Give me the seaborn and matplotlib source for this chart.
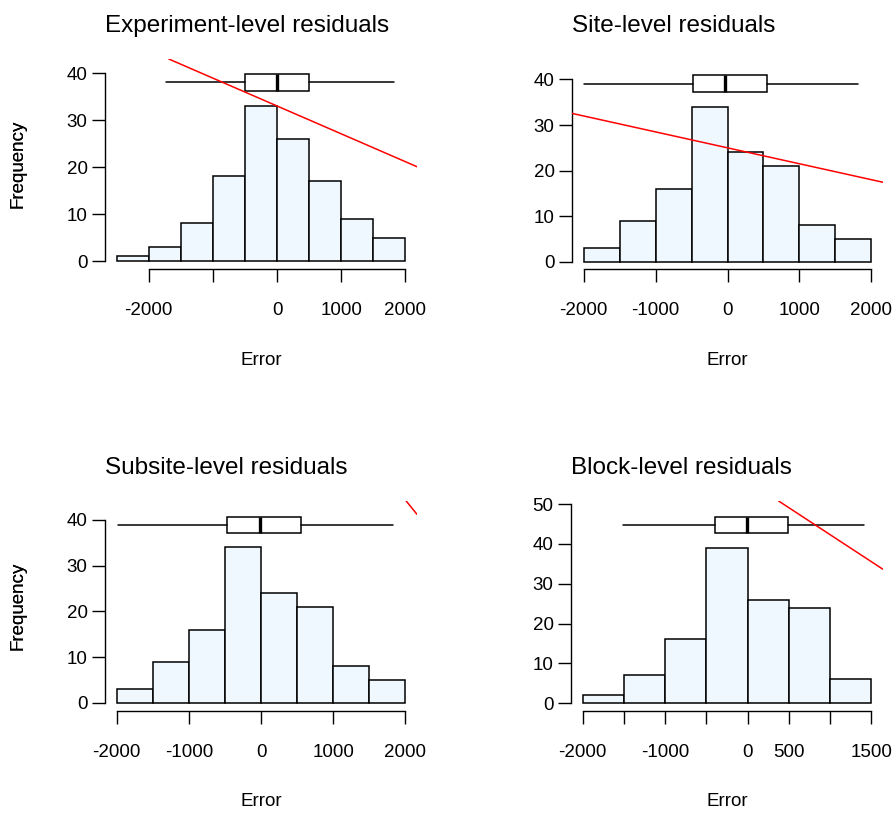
import numpy as np
import pandas as pd
import seaborn as sns
import matplotlib
matplotlib.use("Agg")
import matplotlib.pyplot as plt

sns.set_style("ticks", {"axes.edgecolor": "black", "text.color": "black",
                        "axes.labelcolor": "black",
                        "xtick.color": "black", "ytick.color": "black"})
plt.rcParams["font.family"] = ["Liberation Sans", "DejaVu Sans"]

# histogram bins and counts
titles = ["Experiment-level residuals", "Site-level residuals",
          "Subsite-level residuals", "Block-level residuals"]
edges_exp = [-2500, -2000, -1500, -1000, -500, 0, 500, 1000, 1500, 2000]
counts_exp = [1, 3, 8, 18, 33, 26, 17, 9, 5]
edges_site = [-2000, -1500, -1000, -500, 0, 500, 1000, 1500, 2000]
counts_site = [3, 9, 16, 34, 24, 21, 8, 5]
edges_subsite = [-2000, -1500, -1000, -500, 0, 500, 1000, 1500, 2000]
counts_subsite = [3, 9, 16, 34, 24, 21, 8, 5]
edges_block = [-2000, -1500, -1000, -500, 0, 500, 1000, 1500]
counts_block = [2, 7, 16, 39, 26, 24, 6]

# boxplot summaries (whisker low, q1, median, q3, whisker high) and height
box_exp = [-1732, -500, -5, 500, 1829]
box_site = [-1990, -480, -28, 550, 1818]
box_subsite = [-1986, -472, -14, 556, 1833]
box_block = [-1513, -400, -12, 484, 1404]
box_y = [38.0, 39.1, 38.9, 44.7]
box_h = [3.5, 3.6, 3.6, 4.0]

# red fitted lines: intercept, slope
line_int = [33.0, 25.0, 83.3, 55.9]
line_slope = [-0.00593, -0.0035, -0.0195, -0.01358]

# axis ticks
xticks = [[-2000, -1000, 0, 1000, 2000],
          [-2000, -1000, 0, 1000, 2000],
          [-2000, -1000, 0, 1000, 2000],
          [-2000, -1500, -1000, -500, 0, 500, 1000, 1500]]
xticklabels = [["-2000", "", "0", "1000", "2000"],
               ["-2000", "-1000", "0", "1000", "2000"],
               ["-2000", "-1000", "0", "1000", "2000"],
               ["-2000", "", "-1000", "", "0", "500", "", "1500"]]
yticks = [[0, 10, 20, 30, 40], [0, 10, 20, 30, 40],
          [0, 10, 20, 30, 40], [0, 10, 20, 30, 40, 50]]
xlims = [(-2680, 2180), (-2160, 2160), (-2160, 2160), (-2140, 1640)]
ylims = [(-1.7, 43.0), (-1.6, 44.5), (-1.75, 44.1), (-2.0, 50.8)]

edges = [edges_exp, edges_site, edges_subsite, edges_block]
counts = [counts_exp, counts_site, counts_subsite, counts_block]
boxes = [box_exp, box_site, box_subsite, box_block]

W, H = 896, 814
fig = plt.figure(figsize=(W / 100, H / 100), dpi=100)
# panel rectangles in pixels: left, top, width, height
rects = [(105, 59, 312, 210), (572, 59, 311, 210),
         (105, 501, 312, 210), (571, 501, 312, 210)]

for i in range(4):
    l, t, w, h = rects[i]
    ax = fig.add_axes([l / W, 1 - (t + h) / H, w / W, h / H])
    e = np.array(edges[i])
    centers = (e[:-1] + e[1:]) / 2
    df = pd.DataFrame({"Error": centers, "n": counts[i]})
    sns.histplot(data=df, x="Error", weights="n", bins=edges[i], ax=ax,
                 color="aliceblue", edgecolor="black", linewidth=1.1, alpha=1)

    b = boxes[i]
    stats = [dict(whislo=b[0], q1=b[1], med=b[2], q3=b[3], whishi=b[4], fliers=[])]
    ax.bxp(stats, positions=[box_y[i]], widths=[box_h[i]], orientation="horizontal",
           showcaps=False, manage_ticks=False, patch_artist=True,
           boxprops=dict(facecolor="white", edgecolor="black", linewidth=1.1),
           whiskerprops=dict(color="black", linewidth=1.1),
           medianprops=dict(color="black", linewidth=2.4))

    ax.axline((0, line_int[i]), slope=line_slope[i], color="red", lw=1.1, zorder=5)

    ax.set_xlim(*xlims[i])
    ax.set_ylim(*ylims[i])
    ax.set_xticks(xticks[i])
    ax.set_xticklabels(xticklabels[i])
    ax.set_yticks(yticks[i])
    ax.spines["top"].set_visible(False)
    ax.spines["right"].set_visible(False)
    ax.spines["left"].set_bounds(yticks[i][0], yticks[i][-1])
    ax.spines["bottom"].set_bounds(xticks[i][0], xticks[i][-1])
    for s in ["left", "bottom"]:
        ax.spines[s].set_linewidth(1.0)
    ax.tick_params(axis="both", direction="out", length=9.5, width=1.0, labelsize=13.5)
    ax.tick_params(axis="y", pad=3)
    ax.tick_params(axis="x", pad=14)

    ax.set_xlabel("Error", fontsize=13.5)
    ax.set_ylabel("Frequency", fontsize=13.5)
    ax.xaxis.set_label_coords(0.5, -91 / h)
    ax.xaxis.label.set_verticalalignment("center")
    ax.yaxis.set_label_coords((18 - l) / w, 0.5)
    ax.yaxis.label.set_verticalalignment("center")

    base = 32 if t < 300 else 473.5
    fig.text(l / W, 1 - base / H, titles[i], fontsize=17.5, ha="left", va="baseline")

fig.savefig("out.png", dpi=100)
